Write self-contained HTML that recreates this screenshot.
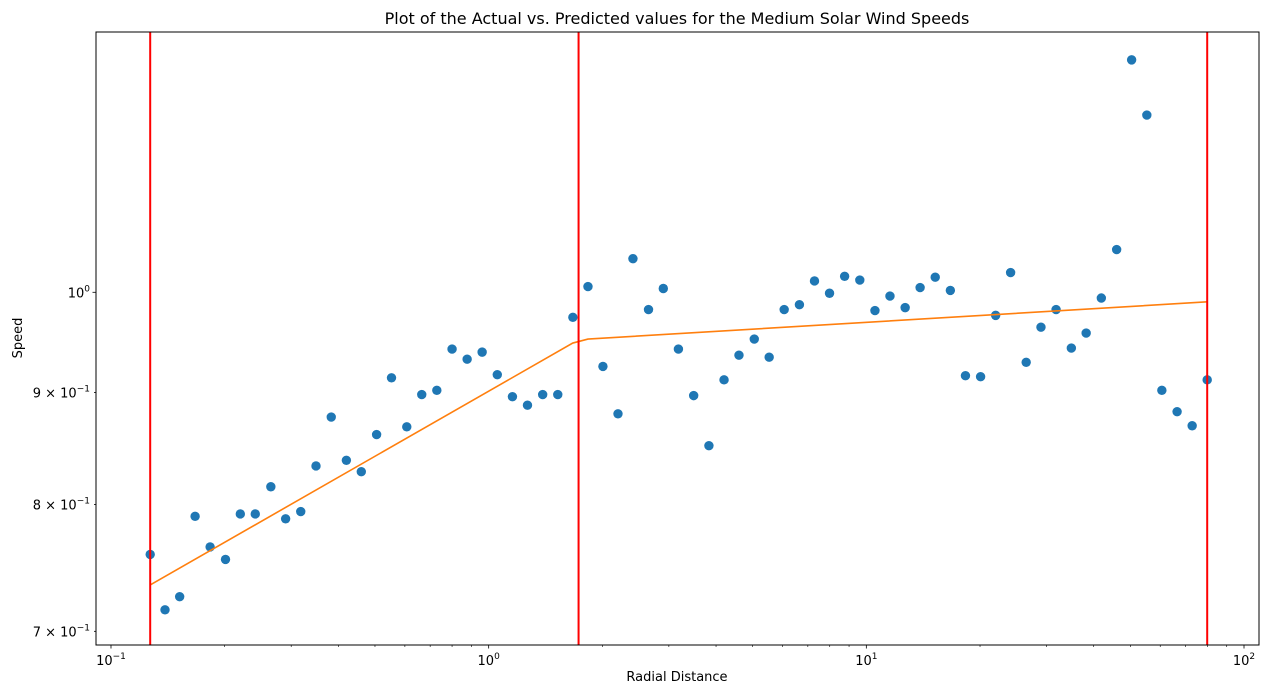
<!DOCTYPE html>
<html><head><meta charset="utf-8"><style>
html,body{margin:0;padding:0;background:#fff;}
svg{display:block;font-family:"DejaVu Sans","Liberation Sans",sans-serif;}
</style></head><body>
<svg id="chart" width="1268" height="694" xmlns="http://www.w3.org/2000/svg">
<text x="677" y="24" font-size="16" text-anchor="middle">Plot of the Actual vs. Predicted values for the Medium Solar Wind Speeds</text>
<text x="677" y="681" font-size="13" text-anchor="middle">Radial Distance</text>
<text x="22" y="338" font-size="13" text-anchor="middle" transform="rotate(-90 22 338)">Speed</text>
<g id="marks"></g>
<rect x="96" y="32" width="1163" height="613" fill="none" stroke="#000" stroke-width="1"/>
</svg>
<script>
const radialDistance=[0.127,0.139,0.152,0.167,0.183,0.201,0.220,0.241,0.265,0.290,0.318,0.349,0.383,0.420,0.460,0.505,0.553,0.607,0.665,0.729,0.800,0.877,0.961,1.054,1.156,1.267,1.390,1.524,1.671,1.832,2.007,2.20,2.41,2.65,2.90,3.18,3.49,3.83,4.20,4.60,5.05,5.53,6.06,6.65,7.29,7.99,8.76,9.61,10.54,11.55,12.67,13.88,15.22,16.69,18.30,20.07,22.0,24.1,26.5,29.0,31.8,34.9,38.2,41.9,46.0,50.4,55.3,60.6,66.5,72.9,79.9];
const actualSpeed=[0.759,0.716,0.726,0.790,0.765,0.755,0.792,0.792,0.815,0.788,0.794,0.833,0.877,0.838,0.828,0.861,0.914,0.868,0.898,0.902,0.942,0.932,0.939,0.917,0.896,0.888,0.898,0.898,0.974,1.006,0.925,0.880,1.036,0.982,1.004,0.942,0.897,0.851,0.912,0.936,0.952,0.934,0.982,0.987,1.012,0.999,1.017,1.013,0.981,0.996,0.984,1.005,1.016,1.002,0.916,0.915,0.976,1.021,0.929,0.964,0.982,0.943,0.958,0.994,1.046,1.277,1.205,0.902,0.882,0.869,0.912];
const predX=[0.127,1.67,1.832,79.9];
const predY=[0.735,0.948,0.952,0.990];
const breakpoints=[0.127,1.73,79.9];
const xTicks=[0.1,1,10,100];
const xTickLabels=["-1","0","1","2"];
const yTicks=[0.7,0.8,0.9,1.0];
const yTickLabels=["7","8","9",""];

const L=96,R=1259,T=32,B=645;
const xLo=-1.0397,xHi=2.0397;
const yLo=Math.log10(0.690),yHi=Math.log10(1.315);
const sx=v=>L+(Math.log10(v)-xLo)/(xHi-xLo)*(R-L);
const sy=v=>B-(Math.log10(v)-yLo)/(yHi-yLo)*(B-T);
const NS="http://www.w3.org/2000/svg";
const g=document.getElementById('marks');
function mk(tag,attrs,parent){const e=document.createElementNS(NS,tag);for(const k in attrs)e.setAttribute(k,attrs[k]);(parent||g).appendChild(e);return e;}

for(let d=-2;d<=2;d++){for(let m=1;m<10;m++){const v=m*Math.pow(10,d);const x=sx(v);if(x<L||x>R)continue;
 const t=mk('line',{x1:x,x2:x,y1:B,y2:B+(m==1?3.5:2),stroke:'#000','stroke-width':m==1?0.8:0.6});
 
 }}
xTicks.forEach((v,i)=>{const t=mk('text',{x:sx(v),y:B+20,'font-size':13,'text-anchor':'middle'});
 
 
 t.innerHTML='10<tspan dy="-6" font-size="9">'+(xTickLabels[i].replace('-','\u2212'))+'</tspan>';});
yTicks.forEach((v,i)=>{const y=sy(v);
 const tk=mk('line',{x1:L-(i==3?3.5:2),x2:L,y1:y,y2:y,stroke:'#000','stroke-width':0.8});
 
 
 const t=mk('text',{x:L-6,y:y+5,'font-size':13,'text-anchor':'end'});
 
 
 if(yTickLabels[i]==="") t.innerHTML='10<tspan dy="-6" font-size="9">0</tspan>';
 else t.innerHTML=yTickLabels[i]+' \u00d7 10<tspan dy="-6" font-size="9">\u22121</tspan>';});

radialDistance.forEach((v,i)=>{const c=mk('circle',{cx:sx(v),cy:sy(actualSpeed[i]),r:4.7,fill:'#1f77b4'});
 
 });
const pl=mk('polyline',{points:predX.map((v,i)=>sx(v)+','+sy(predY[i])).join(' '),fill:'none',stroke:'#ff7f0e','stroke-width':1.6});


breakpoints.forEach(v=>{const x=sx(v);const l=mk('line',{x1:x,x2:x,y1:T,y2:B,stroke:'#ff0000','stroke-width':2});
 
 });
</script>
</body></html>
